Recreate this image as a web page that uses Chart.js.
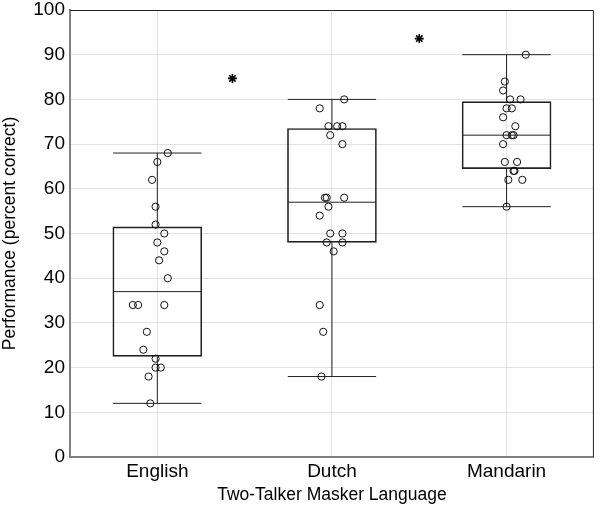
<!DOCTYPE html>
<html>
<head>
<meta charset="utf-8">
<script src="https://cdn.jsdelivr.net/npm/chart.js@4"></script>
<style>
  html, body { margin: 0; padding: 0; background: #fff; }
  #wrap { width: 600px; height: 508px; }
</style>
</head>
<body>
<div id="wrap"><canvas id="grafico"></canvas></div>
<script>
// === Dados ===
const categorias = ["English", "Dutch", "Mandarin"];

// resumo dos boxplots
const minimos = [12, 18, 56];
const q1 = [22.5, 48, 64.5];
const medianas = [37, 57, 72];
const q3 = [51.5, 73.5, 79.5];
const maximos = [68, 80, 90];

// pontos individuais
const englishVals = [68, 66, 62, 56, 52, 50, 48, 46, 44, 40, 34, 34, 34, 28, 24, 22, 20, 20, 18, 12];
const englishJit = [0.06, 0, -0.03, -0.01, -0.01, 0.04, 0, 0.04, 0.01, 0.06, -0.14, -0.11, 0.04, -0.06, -0.08, -0.01, -0.01, 0.02, -0.05, -0.04];
const dutchVals = [80, 78, 74, 74, 74, 72, 70, 58, 58, 58, 56, 54, 50, 50, 48, 48, 46, 34, 28, 18];
const dutchJit = [0.07, -0.07, -0.02, 0.03, 0.06, -0.01, 0.06, -0.04, -0.03, 0.07, -0.02, -0.07, -0.01, 0.06, -0.03, 0.06, 0.01, -0.07, -0.05, -0.06];
const mandarinVals = [90, 84, 82, 80, 80, 78, 78, 76, 74, 72, 72, 72, 70, 66, 66, 64, 64, 62, 62, 56];
const mandarinJit = [0.11, -0.01, -0.02, 0.02, 0.08, 0, 0.03, -0.02, 0.05, 0, 0.03, 0.04, -0.02, -0.01, 0.06, 0.04, 0.045, 0.01, 0.09, 0];

// asteriscos de significancia (posicao x em unidades de categoria)
const asteriscoX = [0.43, 1.5];
const asteriscoY = [84.7, 93.6];

// === Montagem ===
const meiaLargura = 0.253;
const pontos = [];
[[englishVals, englishJit], [dutchVals, dutchJit], [mandarinVals, mandarinJit]].forEach(([vals, jit], i) => {
  vals.forEach((v, k) => pontos.push({ x: i + jit[k], y: v }));
});

const caixas = categorias.map((c, i) => ({ x: i, y: [q1[i], q3[i]] }));

const bigodes = [];
categorias.forEach((c, i) => {
  const gap = { x: i, y: null };
  bigodes.push({ x: i, y: minimos[i] }, { x: i, y: q1[i] }, gap);
  bigodes.push({ x: i, y: q3[i] }, { x: i, y: maximos[i] }, gap);
  [minimos[i], maximos[i], medianas[i]].forEach(v => {
    bigodes.push({ x: i - meiaLargura, y: v }, { x: i + meiaLargura, y: v }, gap);
  });
});

const asteriscos = asteriscoX.map((x, i) => ({ x, y: asteriscoY[i] }));

// moldura do grafico
const moldura = {
  id: "moldura",
  afterDatasetsDraw(chart) {
    const { ctx, chartArea: a } = chart;
    ctx.save();
    ctx.strokeStyle = "#222";
    ctx.lineWidth = 1;
    ctx.beginPath();
    ctx.moveTo(a.left, a.top + 0.5);
    ctx.lineTo(a.right - 0.5, a.top + 0.5);
    ctx.lineTo(a.right - 0.5, a.bottom);
    ctx.stroke();
    ctx.restore();
  }
};

const fonte = "Liberation Sans, Arial, Helvetica, sans-serif";

new Chart(document.getElementById("grafico"), {
  data: {
    datasets: [
      {
        type: "bar",
        data: caixas,
        backgroundColor: "rgba(0,0,0,0)",
        borderColor: "#222",
        borderWidth: 1,
        borderSkipped: false,
        barThickness: 89,
        order: 3,
      },
      {
        type: "line",
        data: bigodes,
        borderColor: "#222",
        borderWidth: 1,
        pointRadius: 0,
        spanGaps: false,
        order: 2,
      },
      {
        type: "scatter",
        data: pontos,
        pointRadius: 3.6,
        pointBackgroundColor: "rgba(0,0,0,0)",
        pointBorderColor: "#111",
        pointBorderWidth: 1,
        order: 1,
      },
      {
        type: "scatter",
        data: asteriscos,
        pointStyle: "star",
        pointRadius: 4.5,
        pointBorderColor: "#000",
        pointBorderWidth: 1.6,
        order: 0,
      },
    ],
  },
  options: {
    responsive: true,
    maintainAspectRatio: false,
    animation: false,
    layout: { padding: { top: 10, right: 3, left: 0, bottom: 0 } },
    plugins: { legend: { display: false }, tooltip: { enabled: false } },
    scales: {
      x: {
        type: "linear",
        min: -0.5,
        max: 2.5,
        offset: false,
        afterBuildTicks: s => { s.ticks = categorias.map((c, i) => ({ value: i })); },
        afterFit: s => { s.height = 51; s.paddingLeft = 0; s.paddingRight = 0; },
        ticks: {
          callback: v => categorias[v] ?? "",
          color: "#000",
          font: { family: fonte, size: 19 },
          padding: 3,
          maxRotation: 0,
        },
        grid: { color: "#e2e2e2", tickLength: 0, offset: false },
        border: { color: "#808080", width: 2 },
        title: {
          display: true,
          text: "Two-Talker Masker Language",
          color: "#000",
          font: { family: fonte, size: 17.5 },
          padding: { top: 0, bottom: 2 },
        },
      },
      y: {
        min: 0,
        max: 100,
        afterFit: s => { s.width = 70; s.paddingTop = 0; s.paddingBottom = 0; },
        ticks: {
          stepSize: 10,
          color: "#000",
          font: { family: fonte, size: 19 },
          padding: 5,
        },
        grid: { color: "#e2e2e2", tickLength: 0 },
        border: { color: "#808080", width: 2 },
        title: {
          display: true,
          text: "Performance (percent correct)",
          color: "#000",
          font: { family: fonte, size: 17.5 },
          padding: { top: 0, bottom: 2 },
        },
      },
    },
  },
  plugins: [moldura],
});
</script>
</body>
</html>
